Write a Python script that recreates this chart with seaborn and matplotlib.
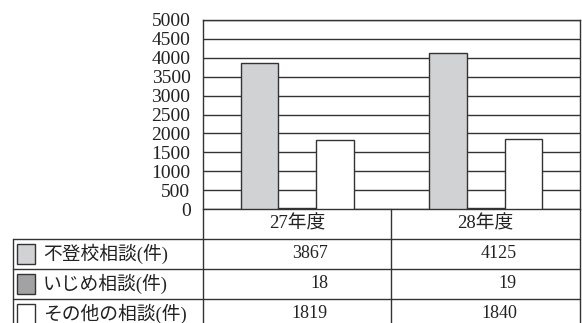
import matplotlib
matplotlib.use("Agg")
import matplotlib.pyplot as plt
import seaborn as sns
import pandas as pd
from matplotlib.patches import Rectangle

years = ["27年度", "28年度"]
series = ["不登校相談(件)", "いじめ相談(件)", "その他の相談(件)"]
values_futoko = [3867, 4125]
values_ijime = [18, 19]
values_other = [1819, 1840]
yticks = [0, 500, 1000, 1500, 2000, 2500, 3000, 3500, 4000, 4500, 5000]
colors = ["#d1d2d4", "#a2a2a4", "#ffffff"]

all_values = [values_futoko, values_ijime, values_other]
rows = []
for s, vals in zip(series, all_values):
    for y, v in zip(years, vals):
        rows.append({"year": y, "series": s, "value": v})
df = pd.DataFrame(rows)

sns.set_style("white")
plt.rcParams["font.family"] = ["Liberation Serif", "Noto Sans CJK JP", "DejaVu Sans"]

W, H = 582, 323
fig = plt.figure(figsize=(W / 100, H / 100), dpi=100)
L, R, T, B = 203, 580, 20, 209
ax = fig.add_axes([L / W, (H - B) / H, (R - L) / W, (B - T) / H])

sns.barplot(data=df, x="year", y="value", hue="series", hue_order=series,
            palette=colors, width=0.6, gap=0, saturation=1,
            edgecolor="#333333", linewidth=1, ax=ax, legend=False, zorder=3)

ax.set_xlim(-0.5, 1.5)
ax.set_ylim(0, 5000)
ax.set_yticks(yticks)
ax.set_yticklabels([str(t) for t in yticks], fontsize=14, color="#222222")
ax.set_xticks([])
ax.set_xlabel("")
ax.set_ylabel("")
ax.tick_params(axis="y", length=0, pad=9)
ax.yaxis.grid(True, color="#333333", linewidth=1)
ax.set_axisbelow(True)
for sp in ax.spines.values():
    sp.set_color("#333333")
    sp.set_linewidth(1)

# table overlay
ov = fig.add_axes([0, 0, 1, 1], facecolor="none")
ov.set_xlim(0, W)
ov.set_ylim(H, 0)
ov.axis("off")
lc = "#333333"
col_edges = [L, 391, R]
row_lines = [239, 269, 299]
for y in row_lines:
    ov.plot([13, R], [y, y], color=lc, lw=1)
ov.plot([13, 13], [239, H], color=lc, lw=1)
for x in col_edges:
    ov.plot([x, x], [B, H], color=lc, lw=1)

header_y = 224
row_y = [254, 284, 314]
for i, yr in enumerate(years):
    cx = (col_edges[i] + col_edges[i + 1]) / 2
    ov.text(cx, header_y, yr, ha="center", va="center", fontsize=13.5, color="#222222")
    for j, vals in enumerate(all_values):
        ov.text(col_edges[i + 1] - 63, row_y[j], str(vals[i]), ha="right", va="center",
                fontsize=13, color="#222222")

for j, s in enumerate(series):
    ov.add_patch(Rectangle((17, row_y[j] - 10), 18, 20, facecolor=colors[j],
                           edgecolor=lc, lw=1))
    ov.text(43, row_y[j], s, ha="left", va="center", fontsize=13.5, color="#222222")

fig.savefig("out.png", dpi=100)
